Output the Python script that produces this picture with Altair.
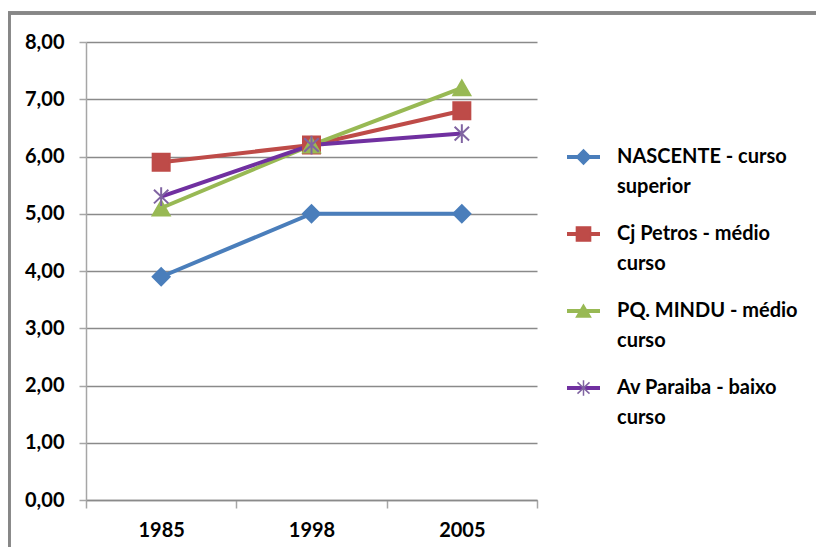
import altair as alt
import pandas as pd

years = ["1985", "1998", "2005"]
series = [
    "NASCENTE - curso superior",
    "Cj Petros - médio curso",
    "PQ. MINDU - médio curso",
    "Av Paraiba - baixo curso",
]
legend_line1 = ["NASCENTE - curso", "Cj Petros - médio", "PQ. MINDU - médio", "Av Paraiba - baixo"]
legend_line2 = ["superior", "curso", "curso", "curso"]
nascente = [3.9, 5.0, 5.0]
petros = [5.9, 6.2, 6.8]
mindu = [5.1, 6.2, 7.2]
paraiba = [5.3, 6.2, 6.4]
y_ticks = [0, 1, 2, 3, 4, 5, 6, 7, 8]

line_colors = ["#4A7EBB", "#BE4B48", "#98B954", "#7030A0"]
marker_colors = ["#4A7EBB", "#BE4B48", "#98B954", "#8064A2"]
asterisk = "M0,-1.1L0,1.1M-0.85,-0.8L0.85,0.8M-0.85,0.8L0.85,-0.8"
shapes = ["diamond", "square", "triangle-up", asterisk]

rows = []
for name, vals in zip(series, [nascente, petros, mindu, paraiba]):
    for yr, v in zip(years, vals):
        rows.append({"series": name, "year": yr, "value": v})
df = pd.DataFrame(rows)
leg = pd.DataFrame({"series": series, "l1": legend_line1, "l2": legend_line2})

FONT = "Lato"
W, H = 451, 458

color_scale = alt.Scale(domain=series, range=line_colors)
mcolor_scale = alt.Scale(domain=series, range=marker_colors)
shape_scale = alt.Scale(domain=series, range=shapes)

x_enc = alt.X(
    "year:N", sort=years,
    scale=alt.Scale(type="band", paddingInner=0, paddingOuter=0),
    axis=alt.Axis(title=None, labelAngle=0, tickBand="extent", tickSize=8,
                  tickColor="#a6a6a6", tickWidth=1.5, domainColor="#8a8a8a",
                  domainWidth=1.5, labelFont=FONT, labelFontSize=20,
                  labelFontWeight="bold", labelColor="#000000", labelPadding=12, grid=False),
)
y_enc = alt.Y(
    "value:Q", scale=alt.Scale(domain=[0, 8], nice=False),
    axis=alt.Axis(title=None, values=y_ticks,
                  labelExpr="replace(format(datum.value, '.2f'), '.', ',')",
                  grid=True, gridColor="#8a8a8a", gridWidth=1.5,
                  domainColor="#a6a6a6", domainWidth=1.5, tickColor="#a6a6a6",
                  tickWidth=1.5, tickSize=7, labelFont=FONT, labelFontSize=20,
                  labelFontWeight="bold", labelColor="#000000", labelPadding=15),
)

base = alt.Chart(df)
lines = base.mark_line(strokeWidth=4).encode(
    x=x_enc, y=y_enc,
    color=alt.Color("series:N", scale=color_scale, legend=None),
    detail="series:N",
)
points = base.mark_point(filled=True, size=289, strokeWidth=2, opacity=1).encode(
    x=x_enc, y=y_enc,
    fill=alt.Fill("series:N", scale=mcolor_scale, legend=None),
    stroke=alt.Stroke("series:N", scale=mcolor_scale, legend=None),
    shape=alt.Shape("series:N", scale=shape_scale, legend=None),
)
main = alt.layer(lines, points)

frame = alt.Chart(df).mark_rect(fill=None, stroke="#878787", strokeWidth=2.5).encode(
    x=alt.value(-77), x2=alt.value(W + 300), y=alt.value(-29), y2=alt.value(H + 100)
)

leg_y = alt.Y("series:N", sort=series,
              scale=alt.Scale(type="point", domain=series, range=[115, 346], padding=0),
              axis=None)
lbase = alt.Chart(leg)
leg_rule = lbase.mark_rule(strokeWidth=4).encode(
    x=alt.value(481), x2=alt.value(514), y=leg_y,
    color=alt.Color("series:N", scale=color_scale, legend=None),
)
leg_pt = lbase.mark_point(filled=True, size=200, strokeWidth=1.5, opacity=1).encode(
    x=alt.value(497.5), y=leg_y,
    fill=alt.Fill("series:N", scale=mcolor_scale, legend=None),
    stroke=alt.Stroke("series:N", scale=mcolor_scale, legend=None),
    shape=alt.Shape("series:N", scale=shape_scale, legend=None),
)
tstyle = dict(align="left", baseline="middle", font=FONT, fontSize=20, fontWeight="bold", color="#000000")
leg_t1 = lbase.mark_text(**tstyle).encode(x=alt.value(531), y=leg_y, text="l1:N")
leg_t2 = lbase.mark_text(dy=30, **tstyle).encode(x=alt.value(531), y=leg_y, text="l2:N")

chart = alt.layer(frame, main, leg_rule, leg_pt, leg_t1, leg_t2).resolve_scale(
    y="independent"
).properties(
    width=W, height=H,
    autosize=alt.AutoSizeParams(type="none"),
    padding={"left": 78, "top": 34, "right": 279, "bottom": 47},
    background="#ffffff",
).configure_view(stroke=None)

chart.save("out.html", embed_options={"renderer": "svg", "actions": False})
